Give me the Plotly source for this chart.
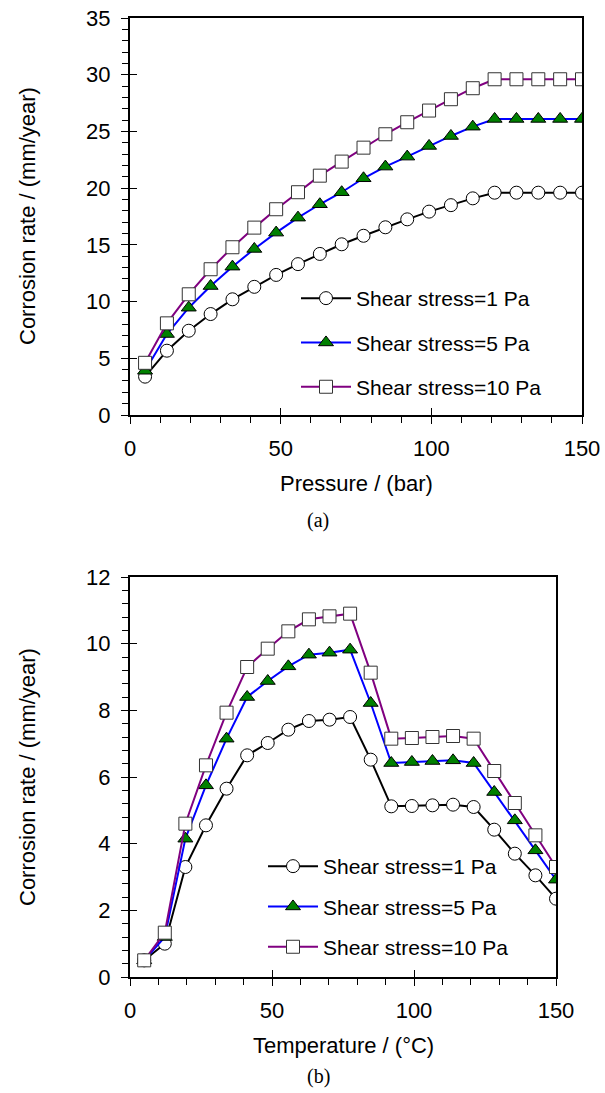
import plotly.graph_objects as go

W, H = 605, 1093

# ---------------- data ----------------
pressure = [5, 12.25, 19.5, 26.75, 34, 41.25, 48.5, 55.75, 63, 70.25, 77.5,
            84.75, 92, 99.25, 106.5, 113.75, 121, 128.25, 135.5, 142.75, 150]
p_tau1 = [3.38, 5.67, 7.43, 8.9, 10.2, 11.3, 12.35, 13.3, 14.2, 15.05, 15.8,
          16.55, 17.25, 17.93, 18.5, 19.1, 19.6, 19.6, 19.6, 19.6, 19.6]
p_tau5 = [3.9, 7.14, 9.46, 11.37, 13.08, 14.64, 16.08, 17.4, 18.58, 19.64, 20.87,
          21.9, 22.78, 23.72, 24.6, 25.42, 26.1, 26.1, 26.1, 26.1, 26.1]
p_tau10 = [4.6, 8.08, 10.64, 12.85, 14.79, 16.52, 18.14, 19.64, 21.1, 22.34, 23.57,
           24.75, 25.81, 26.84, 27.84, 28.81, 29.6, 29.6, 29.6, 29.6, 29.6]

temperature = [5, 12.25, 19.5, 26.75, 34, 41.25, 48.5, 55.75, 63, 70.25, 77.5,
               84.75, 92, 99.25, 106.5, 113.75, 121, 128.25, 135.5, 142.75, 150]
t_tau1 = [0.5, 1.0, 3.3, 4.55, 5.65, 6.65, 7.02, 7.42, 7.68, 7.72, 7.8,
          6.52, 5.12, 5.13, 5.15, 5.17, 5.1, 4.42, 3.7, 3.05, 2.35]
t_tau5 = [0.5, 1.2, 4.15, 5.75, 7.15, 8.4, 8.88, 9.32, 9.67, 9.73, 9.82,
          8.22, 6.42, 6.45, 6.48, 6.5, 6.42, 5.55, 4.7, 3.8, 2.92]
t_tau10 = [0.5, 1.33, 4.6, 6.35, 7.93, 9.3, 9.85, 10.37, 10.73, 10.82, 10.9,
           9.13, 7.15, 7.17, 7.2, 7.23, 7.15, 6.18, 5.22, 4.25, 3.3]

series_names = ["Shear stress=1 Pa", "Shear stress=5 Pa", "Shear stress=10 Pa"]

FONT = "Liberation Sans, Arial, sans-serif"
SERIF = "Liberation Serif, Times New Roman, serif"

styles = [
    dict(line=dict(color="black", width=2),
         marker=dict(symbol="circle", size=13, color="white", line=dict(color="black", width=1))),
    dict(line=dict(color="#0000FF", width=2),
         marker=dict(symbol="triangle-up", size=13, color="#008000", line=dict(color="black", width=1))),
    dict(line=dict(color="#800080", width=2),
         marker=dict(symbol="square", size=13, color="white", line=dict(color="#333333", width=1))),
]

fig = go.Figure()

for i, (ys, name) in enumerate(zip([p_tau1, p_tau5, p_tau10], series_names)):
    fig.add_trace(go.Scatter(x=pressure, y=ys, name=name, mode="lines+markers",
                             xaxis="x", yaxis="y", legend="legend",
                             legendgroup=f"a{i}", **styles[i]))
for i, (ys, name) in enumerate(zip([t_tau1, t_tau5, t_tau10], series_names)):
    fig.add_trace(go.Scatter(x=temperature, y=ys, name=name, mode="lines+markers",
                             xaxis="x2", yaxis="y2", legend="legend2",
                             legendgroup=f"b{i}", **styles[i]))

# empty traces to create overlay axes (inner half of crossing major ticks)
fig.add_trace(go.Scatter(x=[], y=[], xaxis="x3", yaxis="y3", showlegend=False))
fig.add_trace(go.Scatter(x=[], y=[], xaxis="x4", yaxis="y4", showlegend=False))

def px_x(v):
    return v / W

def px_y(v):
    return 1 - v / H

top_x = [px_x(130), px_x(582)]
top_y = [px_y(415), px_y(18)]
bot_x = [px_x(130), px_x(556)]
bot_y = [px_y(977), px_y(577)]

tickfont = dict(family=FONT, size=22, color="black")

def main_axis(domain, anchor, rng, dtick, mdtick):
    return dict(domain=domain, anchor=anchor, range=rng, dtick=dtick,
                showline=True, linecolor="black", linewidth=2, mirror=True,
                ticks="outside", ticklen=7, tickwidth=1, tickcolor="black",
                minor=dict(ticks="outside", ticklen=6, dtick=mdtick, tickwidth=1,
                           tickcolor="black", showgrid=False),
                showgrid=False, zeroline=False, tickfont=tickfont,
                ticklabelstandoff=6, fixedrange=True, automargin=False)

def inner_axis(overlay, anchor, rng, dtick):
    return dict(overlaying=overlay, anchor=anchor, range=rng, dtick=dtick,
                ticks="inside", ticklen=7, tickwidth=1, tickcolor="black",
                showticklabels=False, showline=False, showgrid=False,
                zeroline=False, fixedrange=True, automargin=False)

fig.update_layout(
    template="none",
    width=W, height=H,
    margin=dict(l=0, r=0, t=0, b=0, pad=0, autoexpand=False),
    paper_bgcolor="white", plot_bgcolor="white",
    font=dict(family=FONT, size=22, color="black"),
    xaxis=main_axis(top_x, "y", [0, 150], 50, 10),
    yaxis=main_axis(top_y, "x", [0, 35], 5, 1),
    xaxis2=main_axis(bot_x, "y2", [0, 150], 50, 10),
    yaxis2=main_axis(bot_y, "x2", [0, 12], 2, 0.4),
    xaxis3=inner_axis("x", "y3", [0, 150], 50),
    yaxis3=inner_axis("y", "x3", [0, 35], 5),
    xaxis4=inner_axis("x2", "y4", [0, 150], 50),
    yaxis4=inner_axis("y2", "x4", [0, 12], 2),
    legend=dict(x=px_x(296), y=px_y(278), xanchor="left", yanchor="top",
                bgcolor="rgba(0,0,0,0)", borderwidth=0, tracegroupgap=14,
                font=dict(family=FONT, size=21, color="black"), itemwidth=50),
    legend2=dict(x=px_x(263), y=px_y(846), xanchor="left", yanchor="top",
                 bgcolor="rgba(0,0,0,0)", borderwidth=0, tracegroupgap=10,
                 font=dict(family=FONT, size=21, color="black"), itemwidth=50),
    showlegend=True,
)

annots = [
    dict(text="Corrosion rate / (mm/year)", x=px_x(27), y=px_y(216), textangle=-90,
         font=dict(family=FONT, size=22)),
    dict(text="Pressure / (bar)", x=px_x(356), y=px_y(483), font=dict(family=FONT, size=22)),
    dict(text="(a)", x=px_x(318), y=px_y(520), font=dict(family=SERIF, size=20)),
    dict(text="Corrosion rate / (mm/year)", x=px_x(27), y=px_y(777), textangle=-90,
         font=dict(family=FONT, size=22)),
    dict(text="Temperature / (°C)", x=px_x(343), y=px_y(1045), font=dict(family=FONT, size=22)),
    dict(text="(b)", x=px_x(318), y=px_y(1076), font=dict(family=SERIF, size=20)),
]
for a in annots:
    fig.add_annotation(xref="paper", yref="paper", showarrow=False,
                       xanchor="center", yanchor="middle", **a)

fig.write_html("out.html",
               config={"displayModeBar": False, "responsive": False},
               post_script="document.body.style.margin='0px';"
                           "document.documentElement.style.overflow='hidden';")
